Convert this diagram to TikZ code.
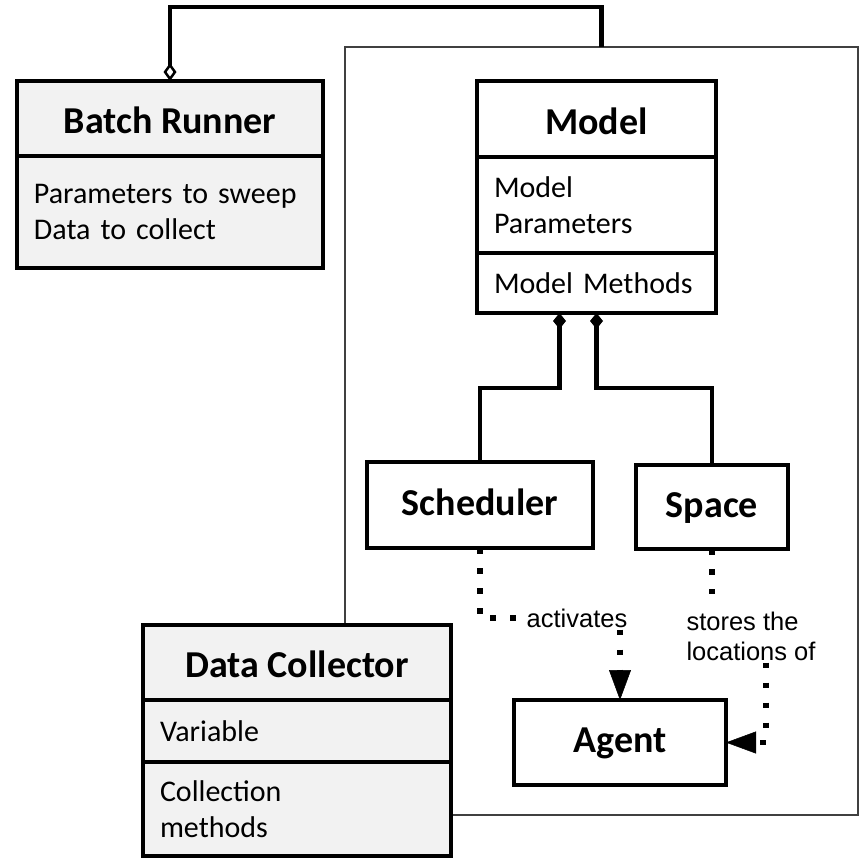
\documentclass[tikz,border=0pt]{standalone}
\usepackage{fontspec}
\setmainfont{Carlito}
\newfontfamily\labelfont{Liberation Sans}
\usetikzlibrary{positioning,arrows.meta}
\definecolor{boxgray}{HTML}{F2F2F2}
\definecolor{framegray}{HTML}{404040}

\begin{document}
\begin{tikzpicture}[
    x=1pt, y=-1pt,
    head/.style={rectangle, draw, line width=3.5pt, outer sep=0pt, inner sep=0pt, anchor=north west, text height=30pt, text depth=0pt, font=\fontsize{38}{46}\selectfont\bfseries},
    box/.style={head, text height=26pt, text depth=6pt},
    attr/.style={rectangle, draw, line width=3.5pt, outer sep=0pt, inner xsep=17pt, inner ysep=0pt, anchor=north, align=left, font=\fontsize{30}{36}\selectfont},
    frame/.style={rectangle, draw=framegray, line width=1.5pt, outer sep=0pt, inner sep=0pt, anchor=north west},
    note/.style={font=\labelfont\fontsize{25.5}{30}\selectfont, align=left, fill=white, inner sep=2pt},
    link/.style={line width=4.5pt},
    dotline/.style={line width=5.5pt, dash pattern=on 5.5pt off 14.5pt},
    arrow/.style={-{Triangle[length=30pt,width=22pt,line width=0.5pt]}}
]
\useasboundingbox[fill=white] (0,0) rectangle (860,860);

% Simulation frame
\node[frame, minimum width=513pt, minimum height=768pt] (sim) at (345,47) {};

% Batch runner
\node[head, fill=boxgray, minimum width=306pt, minimum height=75pt] (br) at (17,81) {Batch Runner};
\node[attr, fill=boxgray, text width=272pt, minimum height=112pt] (brattr) at (br.south) {Parameters to sweep\\Data to collect};

% Model
\node[head, fill=white, minimum width=239pt, minimum height=76pt] (model) at (477,81) {Model};
\node[attr, fill=white, text width=205pt, minimum height=96pt] (modelattr) at (model.south) {Model\\Parameters};
\node[attr, fill=white, text width=205pt, minimum height=60pt] (modelops) at (modelattr.south) {Model Methods};

% Scheduler, space and agent
\node[box, fill=white, minimum width=226pt, minimum height=86pt] (sched) at (367,462) {Scheduler};
\node[box, fill=white, minimum width=152pt, minimum height=84pt] (space) at (636,465) {Space};
\node[box, fill=white, minimum width=212pt, minimum height=85pt] (agent) at (514,700) {Agent};

% Batch runner holds the simulation
\draw[link, {Diamond[open,length=18pt,width=13pt,line width=2.5pt]}-] (br.north) -- ++(0,-74) -| (sim.north);

% Model is composed of scheduler and space
\draw[link, {Diamond[length=16pt,width=13pt]}-] ([xshift=-37pt]modelops.south) -- ++(0,75) -| (sched.north);
\draw[link, {Diamond[length=16pt,width=13pt]}-] (modelops.south) -- ++(0,75) -| (space.north);

% Scheduler activates agent
\node[note] (act) at (577,618) {activates};
\draw[dotline] (sched.south) |- (act.west);
\draw[dotline, arrow] (act.south -| agent.north) -- (agent.north);

% Space stores agents
\node[note] (stores) at (751,636) {stores the\\locations of};
\draw[dotline] (space.south) -- ++(0,45);
\draw[dotline, arrow] ([xshift=15pt]stores.south) |- (agent.east);

% Data collector
\node[head, fill=boxgray, minimum width=308pt, minimum height=75pt] (dc) at (143,625) {Data Collector};
\node[attr, fill=boxgray, text width=274pt, minimum height=62pt] (dcvars) at (dc.south) {Variable};
\node[attr, fill=boxgray, text width=274pt, minimum height=94pt] (dcops) at (dcvars.south) {Collection\\methods};

\end{tikzpicture}
\end{document}
